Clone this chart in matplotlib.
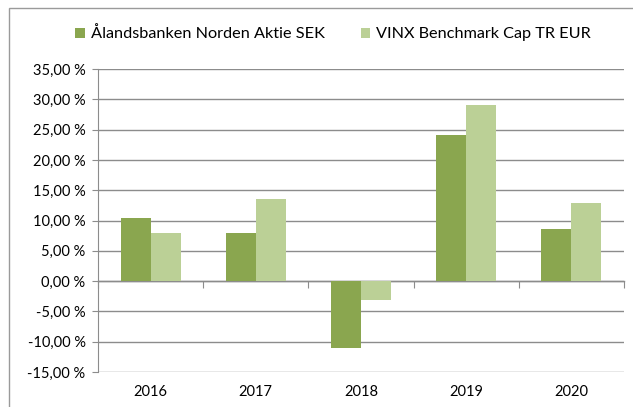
import matplotlib
matplotlib.use("Agg")
import matplotlib.pyplot as plt
import matplotlib.patches as patches
import numpy as np

# values (percent)
years = ["2016", "2017", "2018", "2019", "2020"]
fund = [10.4, 7.9, -11.1, 24.1, 8.6]
bench = [7.9, 13.5, -3.2, 29.0, 12.9]
series_names = ["Ålandsbanken Norden Aktie SEK", "VINX Benchmark Cap TR EUR"]
yticks = [-15, -10, -5, 0, 5, 10, 15, 20, 25, 30, 35]

DARK = "#8aa64f"
LIGHT = "#bbd096"
GRID = "#8c8c8c"

plt.rcParams["font.family"] = ["Lato", "DejaVu Sans"]

W, H = 633, 407
fig = plt.figure(figsize=(W / 100, H / 100), dpi=100)
ax = fig.add_axes([98 / W, 1 - 372 / H, (624 - 98) / W, (372 - 69) / H])

x = np.arange(len(years))
bw = 0.285
ax.bar(x - bw / 2, fund, bw, color=DARK, label=series_names[0], zorder=3)
ax.bar(x + bw / 2, bench, bw, color=LIGHT, label=series_names[1], zorder=3)

ax.set_xlim(-0.5, len(years) - 0.5)
ax.set_ylim(-15, 35)
ax.set_yticks(yticks)
ax.set_yticklabels([f"{v:.2f} %".replace(".", ",") for v in yticks], fontsize=10.5)
ax.yaxis.grid(True, color=GRID, linewidth=1, zorder=0)
ax.tick_params(axis="y", length=4, color=GRID, pad=5)

ax.set_xticks(x)
ax.set_xticklabels(years, fontsize=10.5)
ax.tick_params(axis="x", length=0, pad=9)

for s in ["top", "right", "bottom"]:
    ax.spines[s].set_visible(False)
ax.spines["left"].set_color(GRID)

# category axis drawn at zero with outward boundary ticks
zero = ax.secondary_xaxis(15 / 50)
zero.set_xticks(np.arange(len(years) + 1) - 0.5)
zero.set_xticklabels([])
zero.tick_params(axis="x", direction="out", length=5, color=GRID)
zero.spines["bottom"].set_color(GRID)
zero.spines["bottom"].set_linewidth(1)

fig.legend(loc="center", bbox_to_anchor=(333 / W, 1 - 34 / H), ncol=2,
           frameon=False, fontsize=11.7, handlelength=0.6, handleheight=0.6,
           columnspacing=2.2, handletextpad=0.35)

# outer chart frame
fig.patches.append(patches.Rectangle((9 / W, -0.1), 1.1, 1 - 8 / H + 0.1,
                                     transform=fig.transFigure, fill=False,
                                     edgecolor="#9a9a9a", linewidth=1))

fig.savefig("out.png", dpi=100, facecolor="white")
